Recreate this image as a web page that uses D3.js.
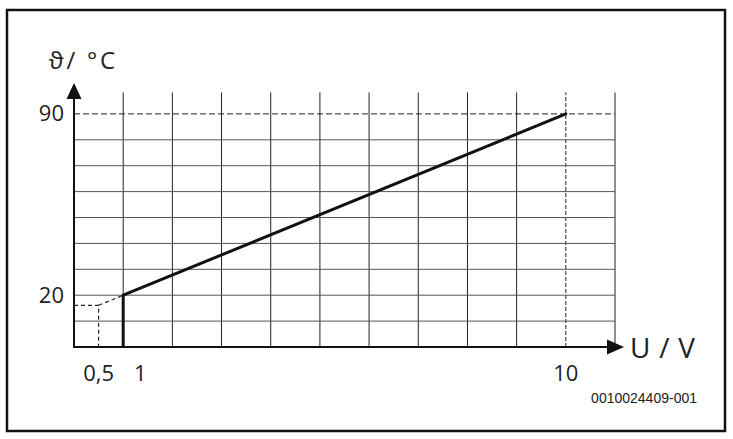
<!DOCTYPE html>
<html><head><meta charset="utf-8">
<script src="https://cdn.jsdelivr.net/npm/d3@7/dist/d3.min.js"></script>
<style>body{margin:0;background:#fff}svg{display:block}text{font-family:"Open Sans","Liberation Sans",Arial,sans-serif;fill:#222}</style>
</head><body><svg id="c" width="733" height="439"></svg>
<script>
// Data
const gridX = [1,2,3,4,5,6,7,8,9,10,11];
const gridY = [10,20,30,40,50,60,70,80,90];
const xTickLabels = [0.5, 1, 10];
const yTickLabels = [20, 90];
const lineU = [1, 10];
const lineT = [20, 90];
const extraU = [0.5, 1];
const extraT = [16.1, 20];

const svg = d3.select("#c");
const x = d3.scaleLinear().domain([0, 11]).range([74, 615]);
const y = d3.scaleLinear().domain([0, 100]).range([347, 88]);
const fmt = v => String(v).replace(".", ",");

// frame
svg.append("rect").attr("x",7).attr("y",10).attr("width",718).attr("height",421)
  .attr("fill","none").attr("stroke","#111").attr("stroke-width",2.5);

// vertical grid
svg.selectAll(".vg").data(gridX).join("line")
  .attr("x1",d=>x(d)).attr("x2",d=>x(d)).attr("y1",y(0)).attr("y2",y(98.3))
  .attr("stroke","#222").attr("stroke-width",1)
  .attr("stroke-dasharray",d=>d===10?"4,2":null);
// horizontal grid
svg.selectAll(".hg").data(gridY).join("line")
  .attr("x1",x(0)).attr("x2",x(11)).attr("y1",d=>y(d)).attr("y2",d=>y(d))
  .attr("stroke",d=>d===90?"#222":"#555").attr("stroke-width",1)
  .attr("stroke-dasharray",d=>d===90?"6,3":null);

// dashed helper lines
svg.append("path").attr("d", d3.line()([[x(0),y(extraT[0])],[x(extraU[0]),y(extraT[0])],[x(extraU[0]),y(0)]]))
  .attr("fill","none").attr("stroke","#222").attr("stroke-width",1.2).attr("stroke-dasharray","4,3");
svg.append("line").attr("x1",x(extraU[0])).attr("y1",y(extraT[0])).attr("x2",x(extraU[1])).attr("y2",y(extraT[1]))
  .attr("stroke","#222").attr("stroke-width",1.2).attr("stroke-dasharray","4,3");

// axes
svg.append("line").attr("x1",x(0)).attr("x2",x(0)).attr("y1",y(0)+1).attr("y2",98)
  .attr("stroke","#111").attr("stroke-width",2);
svg.append("line").attr("x1",x(0)-1).attr("x2",609).attr("y1",y(0)).attr("y2",y(0))
  .attr("stroke","#111").attr("stroke-width",2);
svg.append("path").attr("d",`M${x(0)},83 L${x(0)+7.5},99 L${x(0)-7.5},99 Z`).attr("fill","#111");
svg.append("path").attr("d",`M624,${y(0)} L607,${y(0)-7.5} L607,${y(0)+7.5} Z`).attr("fill","#111");

// characteristic line
svg.append("line").attr("x1",x(lineU[0])).attr("x2",x(lineU[0])).attr("y1",y(0)).attr("y2",y(lineT[0]))
  .attr("stroke","#111").attr("stroke-width",3);
svg.append("line").attr("x1",x(lineU[0])).attr("y1",y(lineT[0])).attr("x2",x(lineU[1])).attr("y2",y(lineT[1]))
  .attr("stroke","#111").attr("stroke-width",3).attr("stroke-linecap","round");

// tick labels
svg.selectAll(".yl").data(yTickLabels).join("text")
  .attr("x",64).attr("y",d=>y(d)+7.5).attr("text-anchor","end")
  .attr("font-size",22).text(d=>d);
svg.selectAll(".xl").data(xTickLabels).join("text")
  .attr("x",d=>d===1?x(d)+17:x(d)).attr("y",381).attr("text-anchor","middle")
  .attr("font-size",22).text(fmt);

// axis titles
svg.append("text").attr("x",49).attr("y",69).attr("font-size",24)
  .attr("textLength",66).attr("lengthAdjust","spacing").text("ϑ/ °C");
svg.append("text").attr("x",630).attr("y",358).attr("font-size",28)
  .attr("textLength",65).attr("lengthAdjust","spacing").text("U / V");
svg.append("text").attr("x",697).attr("y",403).attr("text-anchor","end").attr("font-size",14)
  .style("font-family","'Liberation Sans',Arial,sans-serif").text("0010024409-001");
</script></body></html>
